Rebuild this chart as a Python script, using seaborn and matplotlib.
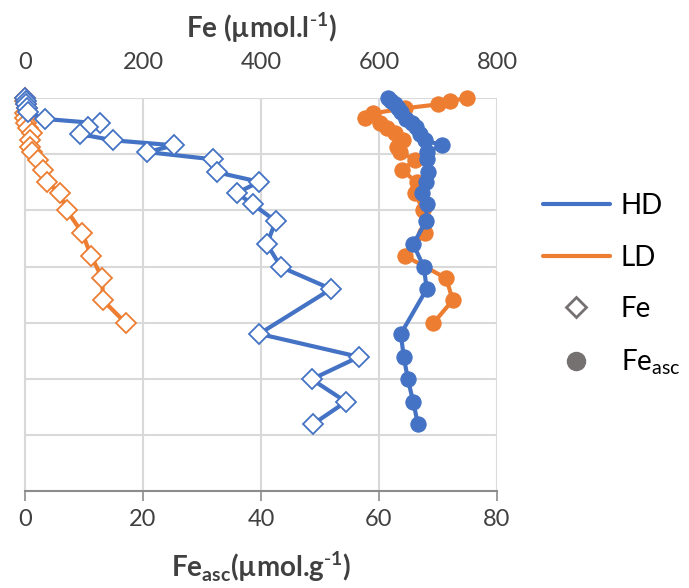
import pandas as pd
import matplotlib.pyplot as plt
import seaborn as sns
from matplotlib.lines import Line2D

# -----------------------------
# Data (depth, Fe in umol/l, Fe_asc in umol/g)
# -----------------------------
hd_depth = [0, 0.5, 1.1, 1.8, 2.5, 3.7, 4.5, 5.2, 6.4, 7.5, 8.4, 9.6, 10.9, 13.2,
            14.9, 16.9, 18.9, 21.9, 26.0, 30.1, 34.0, 42.0, 46.1, 50.1, 54.1, 58.1]
hd_fe = [0, 2, 2, 3, 5, 34, 127, 107, 93, 149, 253, 207, 319, 325,
         397, 359, 386, 425, 410, 434, 519, 397, 566, 486, 544, 488]
hd_feasc = [61.5, 62.0, 62.7, 63.2, 63.7, 64.6, 65.6, 66.3, 66.9, 67.8, 70.7, 68.1, 68.1, 68.3,
            68.0, 67.3, 68.1, 68.0, 65.8, 67.6, 68.1, 63.7, 64.2, 64.9, 65.8, 66.6]

ld_depth = [0, 0.5, 1.1, 1.8, 2.7, 3.6, 4.5, 5.3, 6.2, 7.5, 8.7, 9.6, 11.0, 12.8,
            15.0, 16.9, 20.0, 24.0, 28.1, 32.1, 36.0, 40.1]
ld_fe = [0, 0, 2, 3, 0, 0, 2, 5, 12, 8, 8, 12, 22, 31,
         37, 59, 71, 97, 112, 131, 132, 171]
ld_feasc = [74.9, 72.0, 70.0, 64.4, 59.0, 57.6, 60.2, 61.4, 62.7, 64.1, 63.1, 63.6, 66.1, 63.9,
            66.4, 66.1, 67.5, 67.8, 64.4, 71.4, 72.5, 69.2]

hd = pd.DataFrame({'depth': hd_depth, 'Fe': hd_fe, 'Fe_asc': hd_feasc})
ld = pd.DataFrame({'depth': ld_depth, 'Fe': ld_fe, 'Fe_asc': ld_feasc})

blue = '#4472C4'
orange = '#ED7D31'
grey = '#767171'

sns.set_style('white')
plt.rcParams['font.family'] = ['Lato', 'DejaVu Sans']

fig = plt.figure(figsize=(6.89, 5.88), dpi=100)
ax = fig.add_axes([0.0363, 0.165, 0.685, 0.668])
ax2 = ax.twiny()

# -----------------------------
# Fe_asc (bottom axis, circles)
# -----------------------------
for df, col in [(ld, orange), (hd, blue)]:
    sns.lineplot(data=df, x='Fe_asc', y='depth', sort=False, estimator=None, ax=ax,
                 color=col, lw=3, marker='o', markersize=11, markeredgecolor=col,
                 markerfacecolor=col, clip_on=False, zorder=3)

# -----------------------------
# Fe (top axis, open diamonds)
# -----------------------------
for df, col in [(ld, orange), (hd, blue)]:
    sns.lineplot(data=df, x='Fe', y='depth', sort=False, estimator=None, ax=ax2,
                 color=col, lw=3, marker='D', markersize=10, markeredgecolor=col,
                 markerfacecolor='white', markeredgewidth=1.3, clip_on=False, zorder=3)

ax.set_xlim(0, 80)
ax2.set_xlim(0, 800)
ax.set_ylim(70, 0)

ax.set_xticks([0, 20, 40, 60, 80])
ax2.set_xticks([0, 200, 400, 600, 800])
ax.set_yticks(range(0, 71, 10))
ax.set_yticklabels([])

ax.grid(True, color='#d9d9d9', lw=1.5)
ax.set_axisbelow(True)

for s in ['top', 'right']:
    ax.spines[s].set_visible(False)
for s in ['top', 'right', 'left', 'bottom']:
    ax2.spines[s].set_visible(False)
ax.spines['left'].set_color('#d9d9d9')
ax.spines['left'].set_linewidth(1.5)
ax.spines['bottom'].set_color('#8c8c8c')
ax.spines['bottom'].set_linewidth(1.5)

ax.tick_params(axis='x', direction='out', length=7, width=1.2, color='#8c8c8c',
               labelsize=17, labelcolor='#404040', pad=6)
ax.tick_params(axis='y', direction='out', length=4, color='#d9d9d9')
ax2.tick_params(axis='x', length=0, labelsize=17, labelcolor='#404040', pad=18)

ax.set_xlabel(r'Fe$_{\mathregular{asc}}$(µmol.g$^{\mathregular{\text{-}1}}$)', fontsize=20,
              fontweight='bold', color='#404040', labelpad=14)
ax.set_ylabel('')
ax2.set_xlabel(r'Fe (µmol.l$^{\mathregular{\text{-}1}}$)', fontsize=20, fontweight='bold',
               color='#404040', labelpad=10)

# -----------------------------
# Legend
# -----------------------------
handles = [
    Line2D([], [], color=blue, lw=3),
    Line2D([], [], color=orange, lw=3),
    Line2D([], [], ls='none', marker='D', markersize=10, markerfacecolor='white',
           markeredgecolor=grey, markeredgewidth=2),
    Line2D([], [], ls='none', marker='o', markersize=13, color=grey),
]
labels = ['HD', 'LD', 'Fe', r'Fe$_{\mathregular{asc}}$']
fig.legend(handles, labels, loc='center left', bbox_to_anchor=(0.788, 0.515),
           frameon=False, fontsize=20, handlelength=2.4, labelspacing=0.92,
           handletextpad=0.4, borderaxespad=0, borderpad=0, labelcolor='black')

plt.savefig('out.png', dpi=100)
